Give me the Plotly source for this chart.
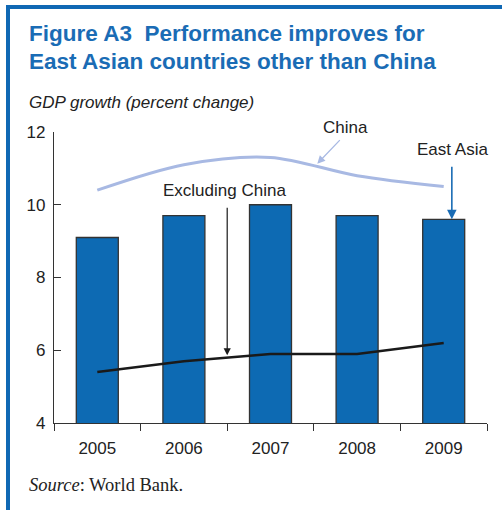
import plotly.graph_objects as go

# values
years = ["2005", "2006", "2007", "2008", "2009"]
east_asia = [9.1, 9.7, 10.0, 9.7, 9.6]
china = [10.4, 11.1, 11.3, 10.8, 10.5]
excl_china = [5.4, 5.7, 5.9, 5.9, 6.2]

W, H = 502, 510
L, R, T, B = 54, 15, 132, 87
pw, ph = W - L - R, H - T - B


def px_x(x):
    return (x - L) / pw


def px_y(y):
    return (H - B - y) / ph


blue = "#0D6AB3"
dark = "#333333"
txt = "#222222"
sans = "Liberation Sans, Arial"

fig = go.Figure()

fig.add_trace(go.Bar(
    x=years, y=east_asia,
    marker=dict(color=blue, line=dict(color=dark, width=1.3)),
    width=0.485,
))

fig.add_trace(go.Scatter(
    x=years, y=china, mode="lines",
    line=dict(color="#A8B9E3", width=3, shape="spline", smoothing=0.9),
))

fig.add_trace(go.Scatter(
    x=years, y=excl_china, mode="lines",
    line=dict(color="#1a1a1a", width=2.5),
))


def label(x, y, text, size=17, anchor="center", family=sans, color=txt):
    return dict(xref="paper", yref="paper", x=px_x(x), y=px_y(y), xanchor=anchor, yanchor="middle",
                text=text, showarrow=False, font=dict(family=family, size=size, color=color))


ann = [
    # title lines
    label(27, 33, "<b>Figure A3&nbsp; Performance improves for</b>", 22.5, "left", color="#1A6CB5"),
    label(27, 62, "<b>East Asian countries other than China</b>", 22.5, "left", color="#1A6CB5"),
    label(27, 103, "<i>GDP growth (percent change)</i>", 17, "left"),
    label(27, 485, "<i>Source</i>: World Bank.", 18.5, "left", family="Liberation Serif, Times New Roman"),
    # series labels
    label(345, 127, "China"),
    label(452, 149, "East Asia"),
    label(224, 190, "Excluding China"),
]

# arrows
ann.append(dict(x=2.54, y=11.13, xref="x", yref="y", ax=24, ay=-25, text="",
                showarrow=True, arrowhead=2, arrowsize=1.2, arrowwidth=1.3, arrowcolor="#A8B9E3"))
ann.append(dict(x=4.094, y=9.6, xref="x", yref="y", ax=0, ay=-54, text="",
                showarrow=True, arrowhead=2, arrowsize=1.2, arrowwidth=1.6, arrowcolor="#1A6CB5"))
ann.append(dict(x=1.5, y=5.86, xref="x", yref="y", ax=0, ay=-149, text="",
                showarrow=True, arrowhead=2, arrowsize=1.2, arrowwidth=1.2, arrowcolor="#1a1a1a"))

# blue frame at top and left
shapes = [
    dict(type="rect", xref="paper", yref="paper", x0=px_x(6), x1=px_x(W + 2), y0=px_y(9), y1=px_y(5),
         fillcolor="#1068B4", line=dict(width=0)),
    dict(type="rect", xref="paper", yref="paper", x0=px_x(6), x1=px_x(10), y0=px_y(H + 2), y1=px_y(5),
         fillcolor="#1068B4", line=dict(width=0)),
]

fig.update_layout(
    width=W, height=H,
    margin=dict(l=L, r=R, t=T, b=B),
    paper_bgcolor="white", plot_bgcolor="white",
    showlegend=False,
    annotations=ann,
    shapes=shapes,
    font=dict(family=sans, size=17, color=txt),
)

fig.update_xaxes(
    type="category", showline=True, linecolor=dark, linewidth=1.3,
    ticks="outside", tickson="boundaries", ticklen=7, tickcolor=dark, tickwidth=1.3,
    showgrid=False, tickfont=dict(size=17, color=txt), ticklabelstandoff=9,
)
fig.update_yaxes(
    range=[4, 12], tickvals=[4, 6, 8, 10, 12], showline=True, linecolor=dark, linewidth=1.3,
    ticks="inside", ticklen=7, tickcolor=dark, tickwidth=1.3,
    showgrid=False, zeroline=False, tickfont=dict(size=17, color=txt), ticklabelstandoff=4,
)

# page has a default body margin; remove it so the figure fills the window
fig.write_html("out.html", config={"displayModeBar": False},
               post_script="document.body.style.margin='0';")
